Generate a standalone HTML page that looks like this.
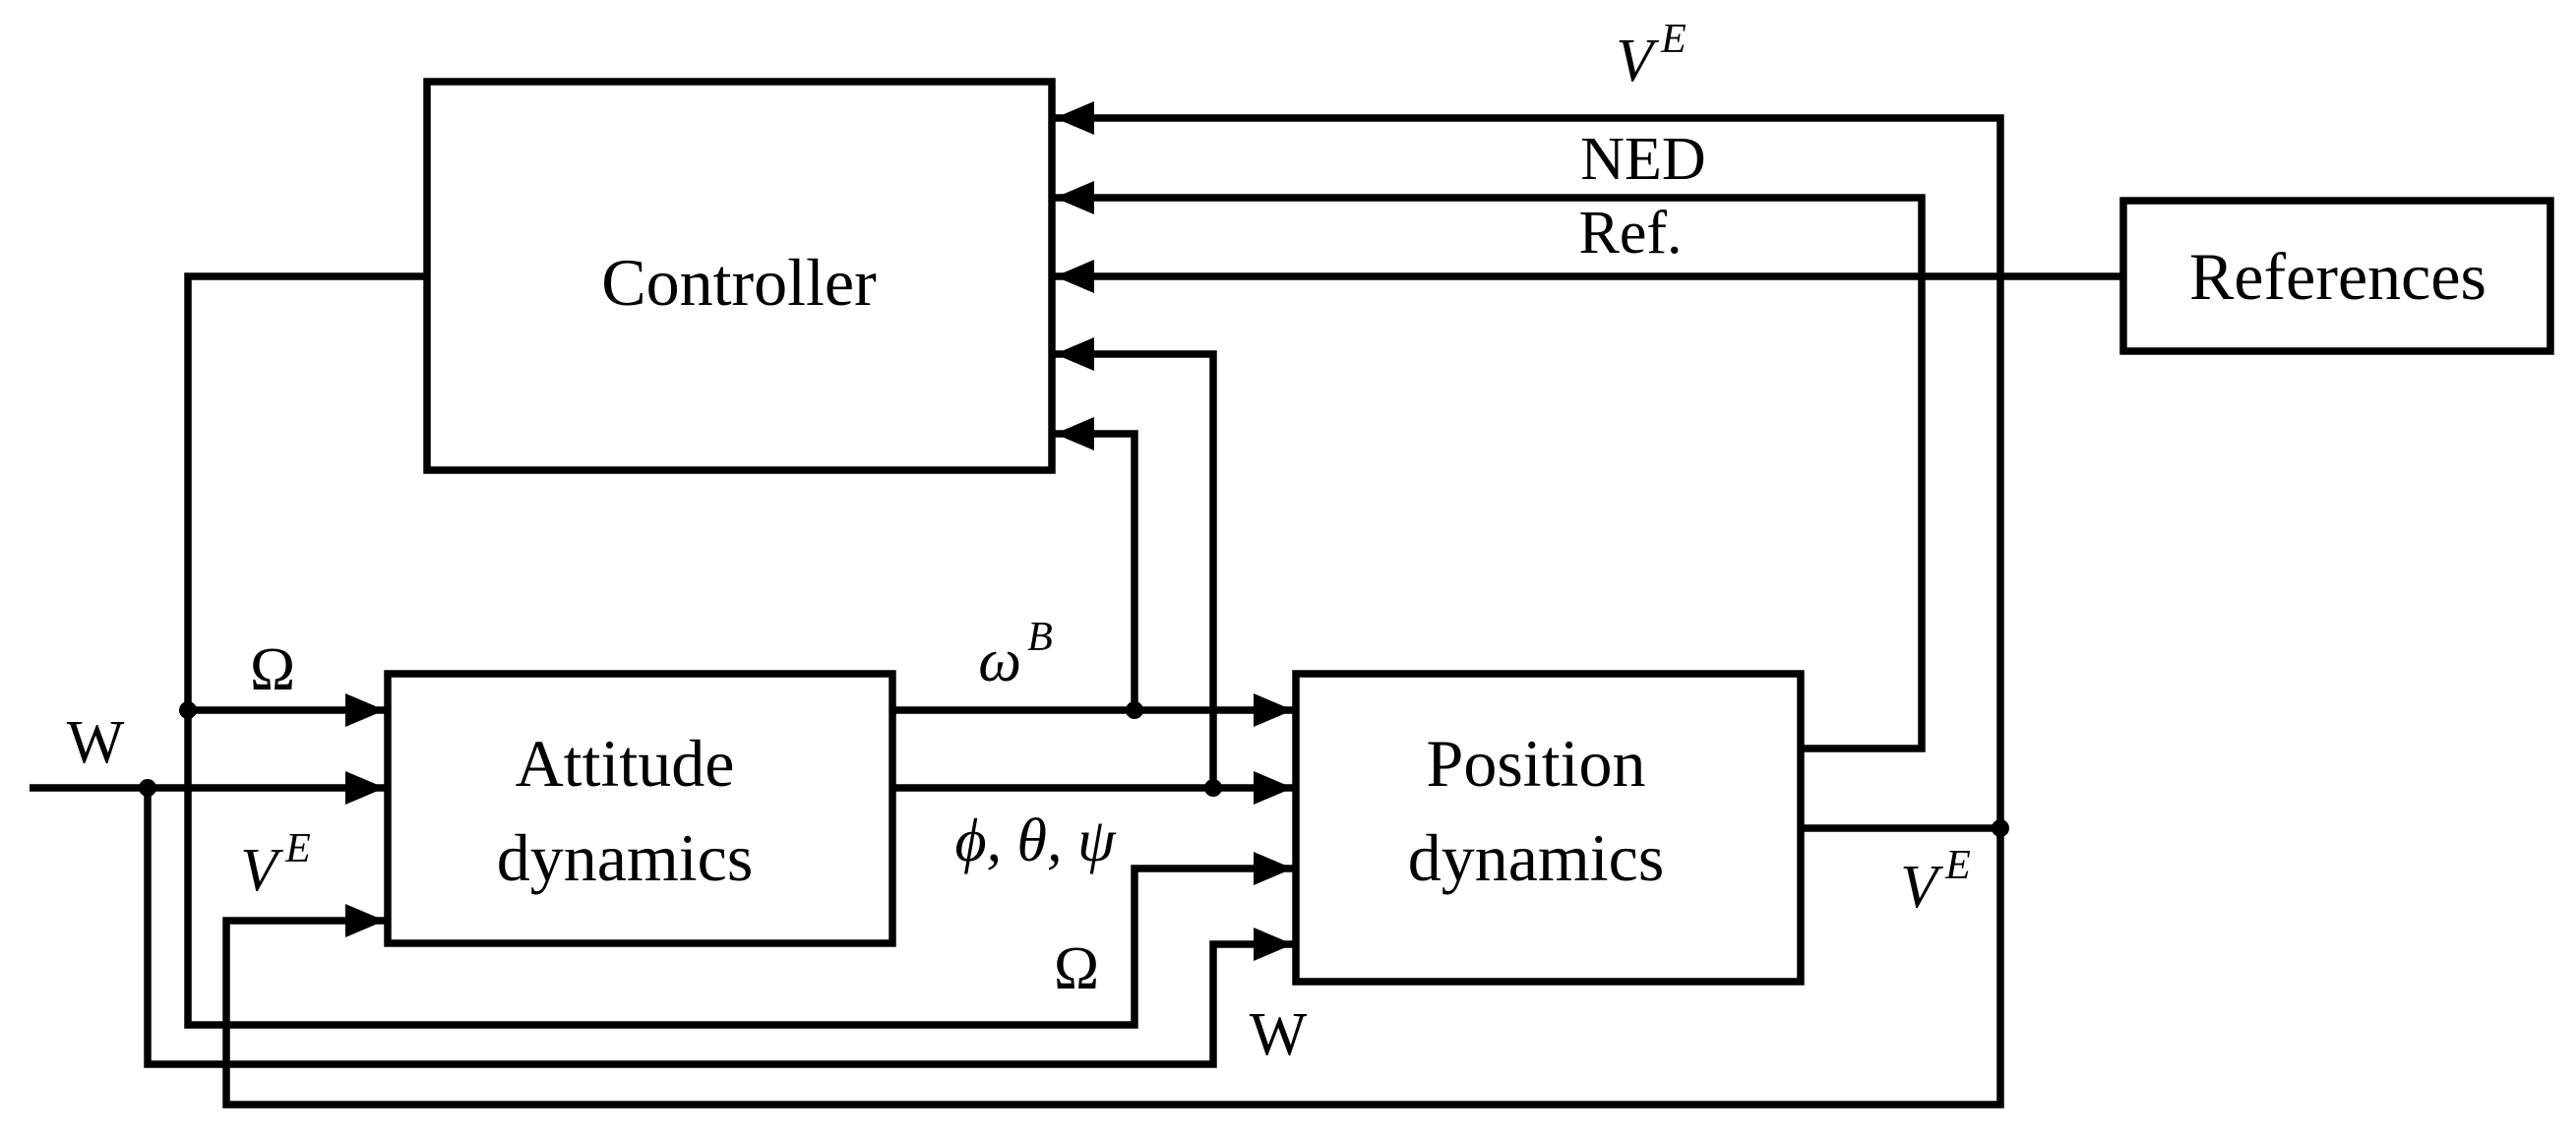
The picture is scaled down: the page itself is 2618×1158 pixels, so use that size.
<!DOCTYPE html>
<html><head><meta charset="utf-8"><style>html,body{margin:0;padding:0;background:#fff}svg{display:block}</style></head>
<body>
<svg width="2618" height="1158" viewBox="0 0 2618 1158" xmlns="http://www.w3.org/2000/svg" font-family="'Liberation Serif', serif">
<defs><marker id="a" markerWidth="40" markerHeight="34" refX="40" refY="17" orient="auto" markerUnits="userSpaceOnUse"><path d="M0,0 L40,17 L0,34 z" fill="#000"/></marker></defs>
<g fill="none" stroke="#000" stroke-width="7.5">
<rect x="434" y="83" width="635" height="395"/>
<rect x="394" y="685" width="513" height="274"/>
<rect x="1317" y="685" width="513" height="313"/>
<rect x="2158" y="204" width="434" height="153"/>
<polyline points="1830,842 2033,842 2033,120 1072,120" marker-end="url(#a)"/>
<polyline points="2033,842 2033,1123 230,1123 230,936 391,936" marker-end="url(#a)"/>
<polyline points="1830,761 1953,761 1953,201 1072,201" marker-end="url(#a)"/>
<polyline points="2158,281 1072,281" marker-end="url(#a)"/>
<polyline points="907,801 1314,801" marker-end="url(#a)"/>
<polyline points="1233,801 1233,360 1072,360" marker-end="url(#a)"/>
<polyline points="907,722 1314,722" marker-end="url(#a)"/>
<polyline points="1153,722 1153,441 1072,441" marker-end="url(#a)"/>
<polyline points="434,281 191,281 191,1042 1153,1042 1153,883 1314,883" marker-end="url(#a)"/>
<polyline points="191,722 391,722" marker-end="url(#a)"/>
<polyline points="30,801 391,801" marker-end="url(#a)"/>
<polyline points="150,801 150,1082 1233,1082 1233,960 1314,960" marker-end="url(#a)"/>
</g>
<g fill="#000">
<circle cx="2033" cy="842" r="9"/><circle cx="1233" cy="801" r="9"/><circle cx="1153" cy="722" r="9"/>
<circle cx="191" cy="722" r="9"/><circle cx="150" cy="801" r="9"/>
</g>
<g font-size="68" text-anchor="middle" fill="#000" dominant-baseline="central">
<text x="751" y="287">Controller</text>
<text x="2376" y="281">References</text>
<text x="635" y="776">Attitude</text>
<text x="635" y="872">dynamics</text>
<text x="1561" y="776">Position</text>
<text x="1561" y="872">dynamics</text>
<text x="1670" y="162" font-size="62">NED</text>
<text x="1657" y="237" font-size="62">Ref.</text>
<text x="277" y="681" font-size="62">Ω</text>
<text x="97" y="755" font-size="62">W</text>
<text x="1094" y="985" font-size="62">Ω</text>
<text x="1299" y="1052" font-size="62">W</text>
<g font-style="italic" font-size="62">
<text x="1678" y="62">V<tspan font-size="42" dx="8" dy="-22">E</tspan></text>
<text x="280" y="885">V<tspan font-size="42" dx="8" dy="-22">E</tspan></text>
<text x="1967" y="902">V<tspan font-size="42" dx="8" dy="-22">E</tspan></text>
<text x="1032" y="672">ω<tspan font-size="42" dx="6" dy="-24">B</tspan></text>
<text x="1052" y="855">ϕ,  θ,  ψ</text>
</g>
</g>
</svg>
</body></html>
